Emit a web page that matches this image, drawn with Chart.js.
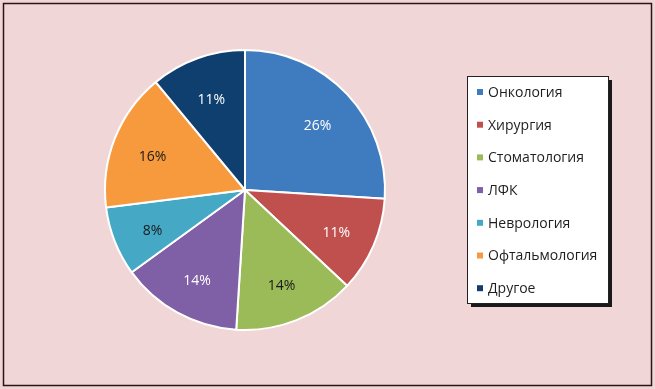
<!DOCTYPE html>
<html><head><meta charset="utf-8">
<script src="https://cdn.jsdelivr.net/npm/chart.js@4/dist/chart.umd.min.js"></script>
<style>html,body{margin:0;padding:0;background:#f1d6d7;}#wrap{width:655px;height:389px;position:relative;}</style>
</head><body><div id="wrap"><canvas id="c" width="655" height="389"></canvas></div>
<script>
const categories = ['Онкология','Хирургия','Стоматология','ЛФК','Неврология','Офтальмология','Другое'];
const values = [26, 11, 14, 14, 8, 16, 11];
const colors = ['#3f7cbf','#c0504d','#9bbb59','#7f5fa5','#45a9c6','#f79a3e','#0f3f6f'];
const labelColors = ['#ffffff','#ffffff','#1a1a1a','#ffffff','#1a1a1a','#1a1a1a','#ffffff'];

const frame = {
  id:'frame',
  beforeDraw(chart){
    const ctx = chart.ctx;
    ctx.save();
    ctx.fillStyle = '#f1d6d7';
    ctx.fillRect(0,0,chart.width,chart.height);
    ctx.strokeStyle = '#2b1414';
    ctx.lineWidth = 1.5;
    ctx.strokeRect(3.5,3.5,648,382);
    ctx.restore();
  }
};
const pieLabels = {
  id:'pieLabels',
  afterDatasetsDraw(chart){
    const ctx = chart.ctx;
    const meta = chart.getDatasetMeta(0);
    const total = values.reduce((a,b)=>a+b,0);
    ctx.save();
    ctx.font = '14px "Open Sans", "Noto Sans", sans-serif';
    ctx.textAlign = 'center';
    ctx.textBaseline = 'middle';
    meta.data.forEach((arc,i)=>{
      const p = arc.getProps(['x','y','startAngle','endAngle','outerRadius'],true);
      const mid = (p.startAngle+p.endAngle)/2;
      const r = p.outerRadius*0.71;
      ctx.fillStyle = labelColors[i];
      ctx.fillText(Math.round(values[i]/total*100)+'%', p.x+Math.cos(mid)*r, p.y+Math.sin(mid)*r+4);
    });
    ctx.restore();
  }
};
const legendBox = {
  id:'legendBox',
  afterDraw(chart){
    const ctx = chart.ctx;
    const x=467, y=76, w=141, h=227;
    ctx.save();
    ctx.fillStyle = '#1a1a1a';
    ctx.fillRect(x+4,y+4,w,h);
    ctx.fillStyle = '#ffffff';
    ctx.fillRect(x,y,w,h);
    ctx.strokeStyle = '#222';
    ctx.lineWidth = 1;
    ctx.strokeRect(x+0.5,y+0.5,w,h);
    ctx.font = '14px "Open Sans", "Noto Sans", sans-serif';
    ctx.textBaseline = 'middle';
    ctx.textAlign = 'left';
    categories.forEach((c,i)=>{
      const cy = 92 + i*32.7;
      ctx.fillStyle = colors[i];
      ctx.fillRect(477, cy-3, 6, 6);
      ctx.fillStyle = '#1e1e1e';
      ctx.fillText(c, 488, cy+1);
    });
    ctx.restore();
  }
};
new Chart(document.getElementById('c'),{
  type:'pie',
  data:{labels:categories,datasets:[{data:values,backgroundColor:colors,borderColor:'#ffffff',borderWidth:2}]},
  options:{
    responsive:false,animation:false,
    layout:{padding:{left:104,right:269,top:49,bottom:58}},
    plugins:{legend:{display:false},tooltip:{enabled:false}}
  },
  plugins:[frame,pieLabels,legendBox]
});
</script></body></html>
